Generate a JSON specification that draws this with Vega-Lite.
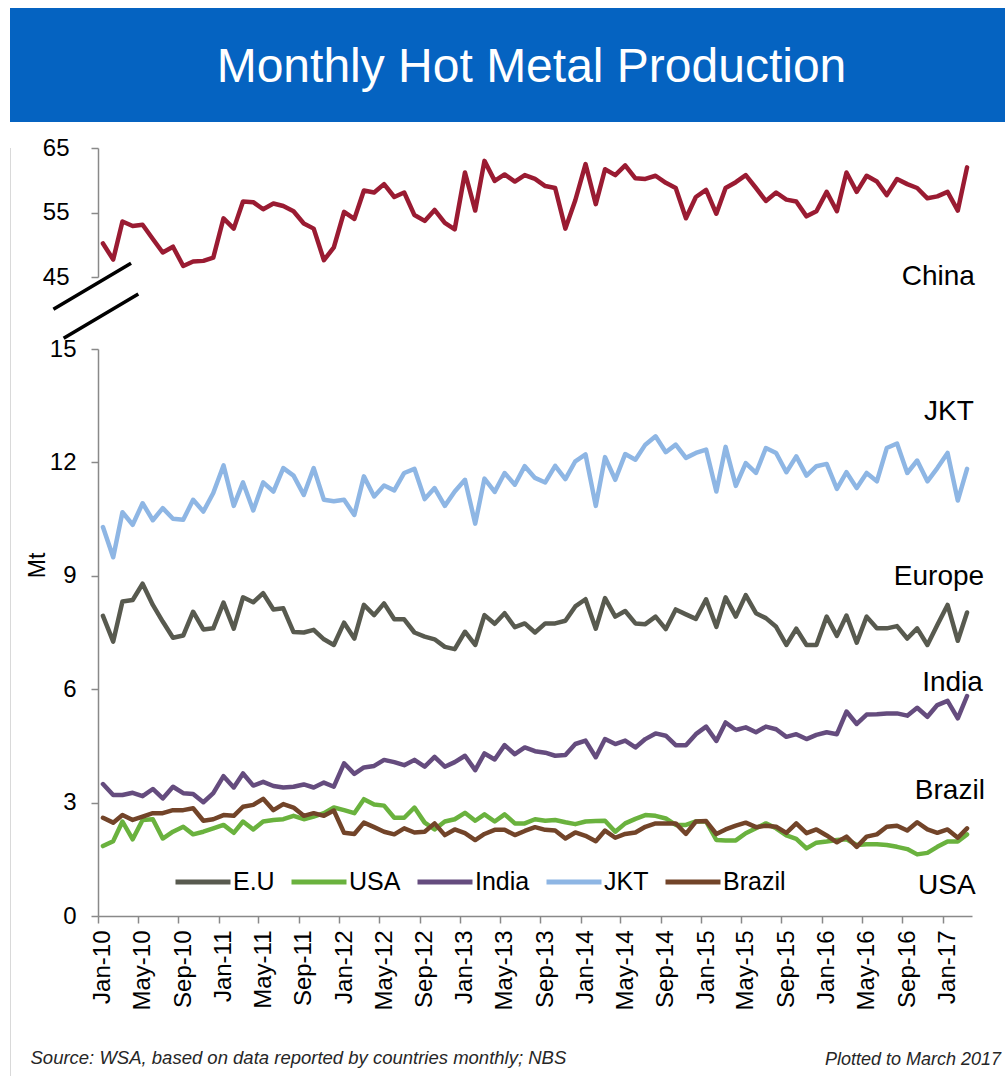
{
  "$schema": "https://vega.github.io/schema/vega-lite/v6.json",
  "padding": {"left": 10, "top": 8, "right": 0, "bottom": 0},
  "background": "white",
  "bounds": "flush",
  "spacing": 26,
  "datasets": {
    "production": [
      {"date": "2010-01-01", "series": "E.U", "mt": 7.94}, {"date": "2010-02-01", "series": "E.U", "mt": 7.26}, {"date": "2010-03-01", "series": "E.U", "mt": 8.32}, {"date": "2010-04-01", "series": "E.U", "mt": 8.36}, {"date": "2010-05-01", "series": "E.U", "mt": 8.79}, {"date": "2010-06-01", "series": "E.U", "mt": 8.23}, {"date": "2010-07-01", "series": "E.U", "mt": 7.79}, {"date": "2010-08-01", "series": "E.U", "mt": 7.36}, {"date": "2010-09-01", "series": "E.U", "mt": 7.42}, {"date": "2010-10-01", "series": "E.U", "mt": 8.05}, {"date": "2010-11-01", "series": "E.U", "mt": 7.58}, {"date": "2010-12-01", "series": "E.U", "mt": 7.61},
      {"date": "2011-01-01", "series": "E.U", "mt": 8.29}, {"date": "2011-02-01", "series": "E.U", "mt": 7.60}, {"date": "2011-03-01", "series": "E.U", "mt": 8.43}, {"date": "2011-04-01", "series": "E.U", "mt": 8.30}, {"date": "2011-05-01", "series": "E.U", "mt": 8.54}, {"date": "2011-06-01", "series": "E.U", "mt": 8.11}, {"date": "2011-07-01", "series": "E.U", "mt": 8.14}, {"date": "2011-08-01", "series": "E.U", "mt": 7.51}, {"date": "2011-09-01", "series": "E.U", "mt": 7.50}, {"date": "2011-10-01", "series": "E.U", "mt": 7.57}, {"date": "2011-11-01", "series": "E.U", "mt": 7.32}, {"date": "2011-12-01", "series": "E.U", "mt": 7.17},
      {"date": "2012-01-01", "series": "E.U", "mt": 7.76}, {"date": "2012-02-01", "series": "E.U", "mt": 7.34}, {"date": "2012-03-01", "series": "E.U", "mt": 8.23}, {"date": "2012-04-01", "series": "E.U", "mt": 7.96}, {"date": "2012-05-01", "series": "E.U", "mt": 8.27}, {"date": "2012-06-01", "series": "E.U", "mt": 7.85}, {"date": "2012-07-01", "series": "E.U", "mt": 7.85}, {"date": "2012-08-01", "series": "E.U", "mt": 7.50}, {"date": "2012-09-01", "series": "E.U", "mt": 7.39}, {"date": "2012-10-01", "series": "E.U", "mt": 7.32}, {"date": "2012-11-01", "series": "E.U", "mt": 7.12}, {"date": "2012-12-01", "series": "E.U", "mt": 7.06},
      {"date": "2013-01-01", "series": "E.U", "mt": 7.52}, {"date": "2013-02-01", "series": "E.U", "mt": 7.17}, {"date": "2013-03-01", "series": "E.U", "mt": 7.96}, {"date": "2013-04-01", "series": "E.U", "mt": 7.73}, {"date": "2013-05-01", "series": "E.U", "mt": 8.01}, {"date": "2013-06-01", "series": "E.U", "mt": 7.64}, {"date": "2013-07-01", "series": "E.U", "mt": 7.74}, {"date": "2013-08-01", "series": "E.U", "mt": 7.50}, {"date": "2013-09-01", "series": "E.U", "mt": 7.74}, {"date": "2013-10-01", "series": "E.U", "mt": 7.74}, {"date": "2013-11-01", "series": "E.U", "mt": 7.81}, {"date": "2013-12-01", "series": "E.U", "mt": 8.19},
      {"date": "2014-01-01", "series": "E.U", "mt": 8.38}, {"date": "2014-02-01", "series": "E.U", "mt": 7.60}, {"date": "2014-03-01", "series": "E.U", "mt": 8.41}, {"date": "2014-04-01", "series": "E.U", "mt": 7.92}, {"date": "2014-05-01", "series": "E.U", "mt": 8.07}, {"date": "2014-06-01", "series": "E.U", "mt": 7.74}, {"date": "2014-07-01", "series": "E.U", "mt": 7.72}, {"date": "2014-08-01", "series": "E.U", "mt": 7.92}, {"date": "2014-09-01", "series": "E.U", "mt": 7.59}, {"date": "2014-10-01", "series": "E.U", "mt": 8.11}, {"date": "2014-11-01", "series": "E.U", "mt": 7.98}, {"date": "2014-12-01", "series": "E.U", "mt": 7.86},
      {"date": "2015-01-01", "series": "E.U", "mt": 8.38}, {"date": "2015-02-01", "series": "E.U", "mt": 7.65}, {"date": "2015-03-01", "series": "E.U", "mt": 8.43}, {"date": "2015-04-01", "series": "E.U", "mt": 7.92}, {"date": "2015-05-01", "series": "E.U", "mt": 8.49}, {"date": "2015-06-01", "series": "E.U", "mt": 8.01}, {"date": "2015-07-01", "series": "E.U", "mt": 7.88}, {"date": "2015-08-01", "series": "E.U", "mt": 7.65}, {"date": "2015-09-01", "series": "E.U", "mt": 7.17}, {"date": "2015-10-01", "series": "E.U", "mt": 7.60}, {"date": "2015-11-01", "series": "E.U", "mt": 7.17}, {"date": "2015-12-01", "series": "E.U", "mt": 7.17},
      {"date": "2016-01-01", "series": "E.U", "mt": 7.92}, {"date": "2016-02-01", "series": "E.U", "mt": 7.41}, {"date": "2016-03-01", "series": "E.U", "mt": 7.95}, {"date": "2016-04-01", "series": "E.U", "mt": 7.23}, {"date": "2016-05-01", "series": "E.U", "mt": 7.92}, {"date": "2016-06-01", "series": "E.U", "mt": 7.61}, {"date": "2016-07-01", "series": "E.U", "mt": 7.61}, {"date": "2016-08-01", "series": "E.U", "mt": 7.67}, {"date": "2016-09-01", "series": "E.U", "mt": 7.34}, {"date": "2016-10-01", "series": "E.U", "mt": 7.61}, {"date": "2016-11-01", "series": "E.U", "mt": 7.17}, {"date": "2016-12-01", "series": "E.U", "mt": 7.70},
      {"date": "2017-01-01", "series": "E.U", "mt": 8.23}, {"date": "2017-02-01", "series": "E.U", "mt": 7.28}, {"date": "2017-03-01", "series": "E.U", "mt": 8.03},

      {"date": "2010-01-01", "series": "USA", "mt": 1.85}, {"date": "2010-02-01", "series": "USA", "mt": 1.98}, {"date": "2010-03-01", "series": "USA", "mt": 2.50}, {"date": "2010-04-01", "series": "USA", "mt": 2.03}, {"date": "2010-05-01", "series": "USA", "mt": 2.54}, {"date": "2010-06-01", "series": "USA", "mt": 2.56}, {"date": "2010-07-01", "series": "USA", "mt": 2.05}, {"date": "2010-08-01", "series": "USA", "mt": 2.23}, {"date": "2010-09-01", "series": "USA", "mt": 2.36}, {"date": "2010-10-01", "series": "USA", "mt": 2.16}, {"date": "2010-11-01", "series": "USA", "mt": 2.23}, {"date": "2010-12-01", "series": "USA", "mt": 2.32},
      {"date": "2011-01-01", "series": "USA", "mt": 2.41}, {"date": "2011-02-01", "series": "USA", "mt": 2.20}, {"date": "2011-03-01", "series": "USA", "mt": 2.50}, {"date": "2011-04-01", "series": "USA", "mt": 2.29}, {"date": "2011-05-01", "series": "USA", "mt": 2.50}, {"date": "2011-06-01", "series": "USA", "mt": 2.54}, {"date": "2011-07-01", "series": "USA", "mt": 2.56}, {"date": "2011-08-01", "series": "USA", "mt": 2.65}, {"date": "2011-09-01", "series": "USA", "mt": 2.56}, {"date": "2011-10-01", "series": "USA", "mt": 2.63}, {"date": "2011-11-01", "series": "USA", "mt": 2.72}, {"date": "2011-12-01", "series": "USA", "mt": 2.87},
      {"date": "2012-01-01", "series": "USA", "mt": 2.80}, {"date": "2012-02-01", "series": "USA", "mt": 2.72}, {"date": "2012-03-01", "series": "USA", "mt": 3.09}, {"date": "2012-04-01", "series": "USA", "mt": 2.95}, {"date": "2012-05-01", "series": "USA", "mt": 2.92}, {"date": "2012-06-01", "series": "USA", "mt": 2.60}, {"date": "2012-07-01", "series": "USA", "mt": 2.60}, {"date": "2012-08-01", "series": "USA", "mt": 2.87}, {"date": "2012-09-01", "series": "USA", "mt": 2.47}, {"date": "2012-10-01", "series": "USA", "mt": 2.29}, {"date": "2012-11-01", "series": "USA", "mt": 2.50}, {"date": "2012-12-01", "series": "USA", "mt": 2.56},
      {"date": "2013-01-01", "series": "USA", "mt": 2.73}, {"date": "2013-02-01", "series": "USA", "mt": 2.52}, {"date": "2013-03-01", "series": "USA", "mt": 2.69}, {"date": "2013-04-01", "series": "USA", "mt": 2.50}, {"date": "2013-05-01", "series": "USA", "mt": 2.69}, {"date": "2013-06-01", "series": "USA", "mt": 2.45}, {"date": "2013-07-01", "series": "USA", "mt": 2.45}, {"date": "2013-08-01", "series": "USA", "mt": 2.56}, {"date": "2013-09-01", "series": "USA", "mt": 2.52}, {"date": "2013-10-01", "series": "USA", "mt": 2.54}, {"date": "2013-11-01", "series": "USA", "mt": 2.48}, {"date": "2013-12-01", "series": "USA", "mt": 2.43},
      {"date": "2014-01-01", "series": "USA", "mt": 2.50}, {"date": "2014-02-01", "series": "USA", "mt": 2.51}, {"date": "2014-03-01", "series": "USA", "mt": 2.52}, {"date": "2014-04-01", "series": "USA", "mt": 2.23}, {"date": "2014-05-01", "series": "USA", "mt": 2.45}, {"date": "2014-06-01", "series": "USA", "mt": 2.57}, {"date": "2014-07-01", "series": "USA", "mt": 2.67}, {"date": "2014-08-01", "series": "USA", "mt": 2.65}, {"date": "2014-09-01", "series": "USA", "mt": 2.58}, {"date": "2014-10-01", "series": "USA", "mt": 2.41}, {"date": "2014-11-01", "series": "USA", "mt": 2.41}, {"date": "2014-12-01", "series": "USA", "mt": 2.50},
      {"date": "2015-01-01", "series": "USA", "mt": 2.50}, {"date": "2015-02-01", "series": "USA", "mt": 2.01}, {"date": "2015-03-01", "series": "USA", "mt": 2.00}, {"date": "2015-04-01", "series": "USA", "mt": 2.00}, {"date": "2015-05-01", "series": "USA", "mt": 2.19}, {"date": "2015-06-01", "series": "USA", "mt": 2.32}, {"date": "2015-07-01", "series": "USA", "mt": 2.45}, {"date": "2015-08-01", "series": "USA", "mt": 2.32}, {"date": "2015-09-01", "series": "USA", "mt": 2.13}, {"date": "2015-10-01", "series": "USA", "mt": 2.04}, {"date": "2015-11-01", "series": "USA", "mt": 1.79}, {"date": "2015-12-01", "series": "USA", "mt": 1.94},
      {"date": "2016-01-01", "series": "USA", "mt": 1.97}, {"date": "2016-02-01", "series": "USA", "mt": 2.01}, {"date": "2016-03-01", "series": "USA", "mt": 2.03}, {"date": "2016-04-01", "series": "USA", "mt": 1.88}, {"date": "2016-05-01", "series": "USA", "mt": 1.90}, {"date": "2016-06-01", "series": "USA", "mt": 1.90}, {"date": "2016-07-01", "series": "USA", "mt": 1.88}, {"date": "2016-08-01", "series": "USA", "mt": 1.83}, {"date": "2016-09-01", "series": "USA", "mt": 1.77}, {"date": "2016-10-01", "series": "USA", "mt": 1.63}, {"date": "2016-11-01", "series": "USA", "mt": 1.67}, {"date": "2016-12-01", "series": "USA", "mt": 1.83},
      {"date": "2017-01-01", "series": "USA", "mt": 1.97}, {"date": "2017-02-01", "series": "USA", "mt": 1.97}, {"date": "2017-03-01", "series": "USA", "mt": 2.16},

      {"date": "2010-01-01", "series": "India", "mt": 3.49}, {"date": "2010-02-01", "series": "India", "mt": 3.20}, {"date": "2010-03-01", "series": "India", "mt": 3.20}, {"date": "2010-04-01", "series": "India", "mt": 3.26}, {"date": "2010-05-01", "series": "India", "mt": 3.17}, {"date": "2010-06-01", "series": "India", "mt": 3.36}, {"date": "2010-07-01", "series": "India", "mt": 3.11}, {"date": "2010-08-01", "series": "India", "mt": 3.42}, {"date": "2010-09-01", "series": "India", "mt": 3.25}, {"date": "2010-10-01", "series": "India", "mt": 3.23}, {"date": "2010-11-01", "series": "India", "mt": 3.01}, {"date": "2010-12-01", "series": "India", "mt": 3.25},
      {"date": "2011-01-01", "series": "India", "mt": 3.70}, {"date": "2011-02-01", "series": "India", "mt": 3.40}, {"date": "2011-03-01", "series": "India", "mt": 3.77}, {"date": "2011-04-01", "series": "India", "mt": 3.45}, {"date": "2011-05-01", "series": "India", "mt": 3.55}, {"date": "2011-06-01", "series": "India", "mt": 3.44}, {"date": "2011-07-01", "series": "India", "mt": 3.40}, {"date": "2011-08-01", "series": "India", "mt": 3.42}, {"date": "2011-09-01", "series": "India", "mt": 3.48}, {"date": "2011-10-01", "series": "India", "mt": 3.40}, {"date": "2011-11-01", "series": "India", "mt": 3.53}, {"date": "2011-12-01", "series": "India", "mt": 3.42},
      {"date": "2012-01-01", "series": "India", "mt": 4.04}, {"date": "2012-02-01", "series": "India", "mt": 3.76}, {"date": "2012-03-01", "series": "India", "mt": 3.93}, {"date": "2012-04-01", "series": "India", "mt": 3.97}, {"date": "2012-05-01", "series": "India", "mt": 4.13}, {"date": "2012-06-01", "series": "India", "mt": 4.07}, {"date": "2012-07-01", "series": "India", "mt": 3.99}, {"date": "2012-08-01", "series": "India", "mt": 4.13}, {"date": "2012-09-01", "series": "India", "mt": 3.95}, {"date": "2012-10-01", "series": "India", "mt": 4.21}, {"date": "2012-11-01", "series": "India", "mt": 3.95}, {"date": "2012-12-01", "series": "India", "mt": 4.07},
      {"date": "2013-01-01", "series": "India", "mt": 4.24}, {"date": "2013-02-01", "series": "India", "mt": 3.86}, {"date": "2013-03-01", "series": "India", "mt": 4.30}, {"date": "2013-04-01", "series": "India", "mt": 4.14}, {"date": "2013-05-01", "series": "India", "mt": 4.52}, {"date": "2013-06-01", "series": "India", "mt": 4.28}, {"date": "2013-07-01", "series": "India", "mt": 4.46}, {"date": "2013-08-01", "series": "India", "mt": 4.36}, {"date": "2013-09-01", "series": "India", "mt": 4.32}, {"date": "2013-10-01", "series": "India", "mt": 4.24}, {"date": "2013-11-01", "series": "India", "mt": 4.26}, {"date": "2013-12-01", "series": "India", "mt": 4.55},
      {"date": "2014-01-01", "series": "India", "mt": 4.64}, {"date": "2014-02-01", "series": "India", "mt": 4.20}, {"date": "2014-03-01", "series": "India", "mt": 4.68}, {"date": "2014-04-01", "series": "India", "mt": 4.55}, {"date": "2014-05-01", "series": "India", "mt": 4.64}, {"date": "2014-06-01", "series": "India", "mt": 4.46}, {"date": "2014-07-01", "series": "India", "mt": 4.68}, {"date": "2014-08-01", "series": "India", "mt": 4.83}, {"date": "2014-09-01", "series": "India", "mt": 4.77}, {"date": "2014-10-01", "series": "India", "mt": 4.52}, {"date": "2014-11-01", "series": "India", "mt": 4.52}, {"date": "2014-12-01", "series": "India", "mt": 4.81},
      {"date": "2015-01-01", "series": "India", "mt": 5.01}, {"date": "2015-02-01", "series": "India", "mt": 4.63}, {"date": "2015-03-01", "series": "India", "mt": 5.12}, {"date": "2015-04-01", "series": "India", "mt": 4.92}, {"date": "2015-05-01", "series": "India", "mt": 4.99}, {"date": "2015-06-01", "series": "India", "mt": 4.86}, {"date": "2015-07-01", "series": "India", "mt": 5.01}, {"date": "2015-08-01", "series": "India", "mt": 4.94}, {"date": "2015-09-01", "series": "India", "mt": 4.74}, {"date": "2015-10-01", "series": "India", "mt": 4.81}, {"date": "2015-11-01", "series": "India", "mt": 4.68}, {"date": "2015-12-01", "series": "India", "mt": 4.79},
      {"date": "2016-01-01", "series": "India", "mt": 4.86}, {"date": "2016-02-01", "series": "India", "mt": 4.81}, {"date": "2016-03-01", "series": "India", "mt": 5.41}, {"date": "2016-04-01", "series": "India", "mt": 5.08}, {"date": "2016-05-01", "series": "India", "mt": 5.33}, {"date": "2016-06-01", "series": "India", "mt": 5.34}, {"date": "2016-07-01", "series": "India", "mt": 5.36}, {"date": "2016-08-01", "series": "India", "mt": 5.36}, {"date": "2016-09-01", "series": "India", "mt": 5.30}, {"date": "2016-10-01", "series": "India", "mt": 5.51}, {"date": "2016-11-01", "series": "India", "mt": 5.27}, {"date": "2016-12-01", "series": "India", "mt": 5.58},
      {"date": "2017-01-01", "series": "India", "mt": 5.69}, {"date": "2017-02-01", "series": "India", "mt": 5.23}, {"date": "2017-03-01", "series": "India", "mt": 5.82},

      {"date": "2010-01-01", "series": "JKT", "mt": 10.29}, {"date": "2010-02-01", "series": "JKT", "mt": 9.49}, {"date": "2010-03-01", "series": "JKT", "mt": 10.68}, {"date": "2010-04-01", "series": "JKT", "mt": 10.35}, {"date": "2010-05-01", "series": "JKT", "mt": 10.92}, {"date": "2010-06-01", "series": "JKT", "mt": 10.47}, {"date": "2010-07-01", "series": "JKT", "mt": 10.79}, {"date": "2010-08-01", "series": "JKT", "mt": 10.51}, {"date": "2010-09-01", "series": "JKT", "mt": 10.48}, {"date": "2010-10-01", "series": "JKT", "mt": 11.01}, {"date": "2010-11-01", "series": "JKT", "mt": 10.70}, {"date": "2010-12-01", "series": "JKT", "mt": 11.19},
      {"date": "2011-01-01", "series": "JKT", "mt": 11.92}, {"date": "2011-02-01", "series": "JKT", "mt": 10.85}, {"date": "2011-03-01", "series": "JKT", "mt": 11.47}, {"date": "2011-04-01", "series": "JKT", "mt": 10.73}, {"date": "2011-05-01", "series": "JKT", "mt": 11.47}, {"date": "2011-06-01", "series": "JKT", "mt": 11.23}, {"date": "2011-07-01", "series": "JKT", "mt": 11.85}, {"date": "2011-08-01", "series": "JKT", "mt": 11.65}, {"date": "2011-09-01", "series": "JKT", "mt": 11.14}, {"date": "2011-10-01", "series": "JKT", "mt": 11.85}, {"date": "2011-11-01", "series": "JKT", "mt": 11.01}, {"date": "2011-12-01", "series": "JKT", "mt": 10.97},
      {"date": "2012-01-01", "series": "JKT", "mt": 11.01}, {"date": "2012-02-01", "series": "JKT", "mt": 10.61}, {"date": "2012-03-01", "series": "JKT", "mt": 11.63}, {"date": "2012-04-01", "series": "JKT", "mt": 11.10}, {"date": "2012-05-01", "series": "JKT", "mt": 11.39}, {"date": "2012-06-01", "series": "JKT", "mt": 11.26}, {"date": "2012-07-01", "series": "JKT", "mt": 11.72}, {"date": "2012-08-01", "series": "JKT", "mt": 11.83}, {"date": "2012-09-01", "series": "JKT", "mt": 11.03}, {"date": "2012-10-01", "series": "JKT", "mt": 11.32}, {"date": "2012-11-01", "series": "JKT", "mt": 10.85}, {"date": "2012-12-01", "series": "JKT", "mt": 11.23},
      {"date": "2013-01-01", "series": "JKT", "mt": 11.54}, {"date": "2013-02-01", "series": "JKT", "mt": 10.38}, {"date": "2013-03-01", "series": "JKT", "mt": 11.57}, {"date": "2013-04-01", "series": "JKT", "mt": 11.22}, {"date": "2013-05-01", "series": "JKT", "mt": 11.72}, {"date": "2013-06-01", "series": "JKT", "mt": 11.41}, {"date": "2013-07-01", "series": "JKT", "mt": 11.90}, {"date": "2013-08-01", "series": "JKT", "mt": 11.59}, {"date": "2013-09-01", "series": "JKT", "mt": 11.47}, {"date": "2013-10-01", "series": "JKT", "mt": 11.91}, {"date": "2013-11-01", "series": "JKT", "mt": 11.56}, {"date": "2013-12-01", "series": "JKT", "mt": 12.03},
      {"date": "2014-01-01", "series": "JKT", "mt": 12.21}, {"date": "2014-02-01", "series": "JKT", "mt": 10.85}, {"date": "2014-03-01", "series": "JKT", "mt": 12.14}, {"date": "2014-04-01", "series": "JKT", "mt": 11.54}, {"date": "2014-05-01", "series": "JKT", "mt": 12.22}, {"date": "2014-06-01", "series": "JKT", "mt": 12.07}, {"date": "2014-07-01", "series": "JKT", "mt": 12.47}, {"date": "2014-08-01", "series": "JKT", "mt": 12.69}, {"date": "2014-09-01", "series": "JKT", "mt": 12.27}, {"date": "2014-10-01", "series": "JKT", "mt": 12.47}, {"date": "2014-11-01", "series": "JKT", "mt": 12.12}, {"date": "2014-12-01", "series": "JKT", "mt": 12.25},
      {"date": "2015-01-01", "series": "JKT", "mt": 12.34}, {"date": "2015-02-01", "series": "JKT", "mt": 11.23}, {"date": "2015-03-01", "series": "JKT", "mt": 12.41}, {"date": "2015-04-01", "series": "JKT", "mt": 11.38}, {"date": "2015-05-01", "series": "JKT", "mt": 11.98}, {"date": "2015-06-01", "series": "JKT", "mt": 11.72}, {"date": "2015-07-01", "series": "JKT", "mt": 12.38}, {"date": "2015-08-01", "series": "JKT", "mt": 12.25}, {"date": "2015-09-01", "series": "JKT", "mt": 11.74}, {"date": "2015-10-01", "series": "JKT", "mt": 12.16}, {"date": "2015-11-01", "series": "JKT", "mt": 11.65}, {"date": "2015-12-01", "series": "JKT", "mt": 11.90},
      {"date": "2016-01-01", "series": "JKT", "mt": 11.96}, {"date": "2016-02-01", "series": "JKT", "mt": 11.30}, {"date": "2016-03-01", "series": "JKT", "mt": 11.74}, {"date": "2016-04-01", "series": "JKT", "mt": 11.32}, {"date": "2016-05-01", "series": "JKT", "mt": 11.72}, {"date": "2016-06-01", "series": "JKT", "mt": 11.50}, {"date": "2016-07-01", "series": "JKT", "mt": 12.38}, {"date": "2016-08-01", "series": "JKT", "mt": 12.50}, {"date": "2016-09-01", "series": "JKT", "mt": 11.72}, {"date": "2016-10-01", "series": "JKT", "mt": 12.05}, {"date": "2016-11-01", "series": "JKT", "mt": 11.50}, {"date": "2016-12-01", "series": "JKT", "mt": 11.85},
      {"date": "2017-01-01", "series": "JKT", "mt": 12.25}, {"date": "2017-02-01", "series": "JKT", "mt": 10.99}, {"date": "2017-03-01", "series": "JKT", "mt": 11.83},

      {"date": "2010-01-01", "series": "Brazil", "mt": 2.60}, {"date": "2010-02-01", "series": "Brazil", "mt": 2.47}, {"date": "2010-03-01", "series": "Brazil", "mt": 2.67}, {"date": "2010-04-01", "series": "Brazil", "mt": 2.54}, {"date": "2010-05-01", "series": "Brazil", "mt": 2.63}, {"date": "2010-06-01", "series": "Brazil", "mt": 2.72}, {"date": "2010-07-01", "series": "Brazil", "mt": 2.72}, {"date": "2010-08-01", "series": "Brazil", "mt": 2.80}, {"date": "2010-09-01", "series": "Brazil", "mt": 2.80}, {"date": "2010-10-01", "series": "Brazil", "mt": 2.85}, {"date": "2010-11-01", "series": "Brazil", "mt": 2.52}, {"date": "2010-12-01", "series": "Brazil", "mt": 2.56},
      {"date": "2011-01-01", "series": "Brazil", "mt": 2.67}, {"date": "2011-02-01", "series": "Brazil", "mt": 2.65}, {"date": "2011-03-01", "series": "Brazil", "mt": 2.89}, {"date": "2011-04-01", "series": "Brazil", "mt": 2.94}, {"date": "2011-05-01", "series": "Brazil", "mt": 3.10}, {"date": "2011-06-01", "series": "Brazil", "mt": 2.80}, {"date": "2011-07-01", "series": "Brazil", "mt": 2.96}, {"date": "2011-08-01", "series": "Brazil", "mt": 2.87}, {"date": "2011-09-01", "series": "Brazil", "mt": 2.65}, {"date": "2011-10-01", "series": "Brazil", "mt": 2.72}, {"date": "2011-11-01", "series": "Brazil", "mt": 2.65}, {"date": "2011-12-01", "series": "Brazil", "mt": 2.79},
      {"date": "2012-01-01", "series": "Brazil", "mt": 2.20}, {"date": "2012-02-01", "series": "Brazil", "mt": 2.17}, {"date": "2012-03-01", "series": "Brazil", "mt": 2.47}, {"date": "2012-04-01", "series": "Brazil", "mt": 2.35}, {"date": "2012-05-01", "series": "Brazil", "mt": 2.23}, {"date": "2012-06-01", "series": "Brazil", "mt": 2.16}, {"date": "2012-07-01", "series": "Brazil", "mt": 2.32}, {"date": "2012-08-01", "series": "Brazil", "mt": 2.21}, {"date": "2012-09-01", "series": "Brazil", "mt": 2.23}, {"date": "2012-10-01", "series": "Brazil", "mt": 2.45}, {"date": "2012-11-01", "series": "Brazil", "mt": 2.14}, {"date": "2012-12-01", "series": "Brazil", "mt": 2.29},
      {"date": "2013-01-01", "series": "Brazil", "mt": 2.19}, {"date": "2013-02-01", "series": "Brazil", "mt": 2.01}, {"date": "2013-03-01", "series": "Brazil", "mt": 2.17}, {"date": "2013-04-01", "series": "Brazil", "mt": 2.28}, {"date": "2013-05-01", "series": "Brazil", "mt": 2.28}, {"date": "2013-06-01", "series": "Brazil", "mt": 2.14}, {"date": "2013-07-01", "series": "Brazil", "mt": 2.25}, {"date": "2013-08-01", "series": "Brazil", "mt": 2.35}, {"date": "2013-09-01", "series": "Brazil", "mt": 2.28}, {"date": "2013-10-01", "series": "Brazil", "mt": 2.26}, {"date": "2013-11-01", "series": "Brazil", "mt": 2.05}, {"date": "2013-12-01", "series": "Brazil", "mt": 2.21},
      {"date": "2014-01-01", "series": "Brazil", "mt": 2.12}, {"date": "2014-02-01", "series": "Brazil", "mt": 1.98}, {"date": "2014-03-01", "series": "Brazil", "mt": 2.26}, {"date": "2014-04-01", "series": "Brazil", "mt": 2.07}, {"date": "2014-05-01", "series": "Brazil", "mt": 2.17}, {"date": "2014-06-01", "series": "Brazil", "mt": 2.21}, {"date": "2014-07-01", "series": "Brazil", "mt": 2.36}, {"date": "2014-08-01", "series": "Brazil", "mt": 2.45}, {"date": "2014-09-01", "series": "Brazil", "mt": 2.45}, {"date": "2014-10-01", "series": "Brazil", "mt": 2.45}, {"date": "2014-11-01", "series": "Brazil", "mt": 2.17}, {"date": "2014-12-01", "series": "Brazil", "mt": 2.50},
      {"date": "2015-01-01", "series": "Brazil", "mt": 2.51}, {"date": "2015-02-01", "series": "Brazil", "mt": 2.17}, {"date": "2015-03-01", "series": "Brazil", "mt": 2.29}, {"date": "2015-04-01", "series": "Brazil", "mt": 2.39}, {"date": "2015-05-01", "series": "Brazil", "mt": 2.47}, {"date": "2015-06-01", "series": "Brazil", "mt": 2.35}, {"date": "2015-07-01", "series": "Brazil", "mt": 2.39}, {"date": "2015-08-01", "series": "Brazil", "mt": 2.36}, {"date": "2015-09-01", "series": "Brazil", "mt": 2.20}, {"date": "2015-10-01", "series": "Brazil", "mt": 2.45}, {"date": "2015-11-01", "series": "Brazil", "mt": 2.19}, {"date": "2015-12-01", "series": "Brazil", "mt": 2.29},
      {"date": "2016-01-01", "series": "Brazil", "mt": 2.13}, {"date": "2016-02-01", "series": "Brazil", "mt": 1.95}, {"date": "2016-03-01", "series": "Brazil", "mt": 2.10}, {"date": "2016-04-01", "series": "Brazil", "mt": 1.83}, {"date": "2016-05-01", "series": "Brazil", "mt": 2.10}, {"date": "2016-06-01", "series": "Brazil", "mt": 2.16}, {"date": "2016-07-01", "series": "Brazil", "mt": 2.36}, {"date": "2016-08-01", "series": "Brazil", "mt": 2.39}, {"date": "2016-09-01", "series": "Brazil", "mt": 2.26}, {"date": "2016-10-01", "series": "Brazil", "mt": 2.48}, {"date": "2016-11-01", "series": "Brazil", "mt": 2.29}, {"date": "2016-12-01", "series": "Brazil", "mt": 2.20},
      {"date": "2017-01-01", "series": "Brazil", "mt": 2.29}, {"date": "2017-02-01", "series": "Brazil", "mt": 2.07}, {"date": "2017-03-01", "series": "Brazil", "mt": 2.32},

      {"date": "2010-01-01", "series": "China", "mt": 50.2}, {"date": "2010-02-01", "series": "China", "mt": 47.7}, {"date": "2010-03-01", "series": "China", "mt": 53.6}, {"date": "2010-04-01", "series": "China", "mt": 52.9}, {"date": "2010-05-01", "series": "China", "mt": 53.1}, {"date": "2010-06-01", "series": "China", "mt": 50.9}, {"date": "2010-07-01", "series": "China", "mt": 48.8}, {"date": "2010-08-01", "series": "China", "mt": 49.7}, {"date": "2010-09-01", "series": "China", "mt": 46.7}, {"date": "2010-10-01", "series": "China", "mt": 47.4}, {"date": "2010-11-01", "series": "China", "mt": 47.5}, {"date": "2010-12-01", "series": "China", "mt": 48.0},
      {"date": "2011-01-01", "series": "China", "mt": 54.1}, {"date": "2011-02-01", "series": "China", "mt": 52.5}, {"date": "2011-03-01", "series": "China", "mt": 56.7}, {"date": "2011-04-01", "series": "China", "mt": 56.6}, {"date": "2011-05-01", "series": "China", "mt": 55.5}, {"date": "2011-06-01", "series": "China", "mt": 56.4}, {"date": "2011-07-01", "series": "China", "mt": 56.0}, {"date": "2011-08-01", "series": "China", "mt": 55.2}, {"date": "2011-09-01", "series": "China", "mt": 53.3}, {"date": "2011-10-01", "series": "China", "mt": 52.5}, {"date": "2011-11-01", "series": "China", "mt": 47.6}, {"date": "2011-12-01", "series": "China", "mt": 49.6},
      {"date": "2012-01-01", "series": "China", "mt": 55.1}, {"date": "2012-02-01", "series": "China", "mt": 54.0}, {"date": "2012-03-01", "series": "China", "mt": 58.4}, {"date": "2012-04-01", "series": "China", "mt": 58.1}, {"date": "2012-05-01", "series": "China", "mt": 59.4}, {"date": "2012-06-01", "series": "China", "mt": 57.4}, {"date": "2012-07-01", "series": "China", "mt": 58.1}, {"date": "2012-08-01", "series": "China", "mt": 54.6}, {"date": "2012-09-01", "series": "China", "mt": 53.7}, {"date": "2012-10-01", "series": "China", "mt": 55.4}, {"date": "2012-11-01", "series": "China", "mt": 53.4}, {"date": "2012-12-01", "series": "China", "mt": 52.4},
      {"date": "2013-01-01", "series": "China", "mt": 61.2}, {"date": "2013-02-01", "series": "China", "mt": 55.3}, {"date": "2013-03-01", "series": "China", "mt": 63.0}, {"date": "2013-04-01", "series": "China", "mt": 59.9}, {"date": "2013-05-01", "series": "China", "mt": 60.9}, {"date": "2013-06-01", "series": "China", "mt": 59.8}, {"date": "2013-07-01", "series": "China", "mt": 60.8}, {"date": "2013-08-01", "series": "China", "mt": 60.2}, {"date": "2013-09-01", "series": "China", "mt": 59.1}, {"date": "2013-10-01", "series": "China", "mt": 58.8}, {"date": "2013-11-01", "series": "China", "mt": 52.5}, {"date": "2013-12-01", "series": "China", "mt": 56.9},
      {"date": "2014-01-01", "series": "China", "mt": 62.5}, {"date": "2014-02-01", "series": "China", "mt": 56.3}, {"date": "2014-03-01", "series": "China", "mt": 61.7}, {"date": "2014-04-01", "series": "China", "mt": 60.8}, {"date": "2014-05-01", "series": "China", "mt": 62.3}, {"date": "2014-06-01", "series": "China", "mt": 60.3}, {"date": "2014-07-01", "series": "China", "mt": 60.2}, {"date": "2014-08-01", "series": "China", "mt": 60.7}, {"date": "2014-09-01", "series": "China", "mt": 59.6}, {"date": "2014-10-01", "series": "China", "mt": 58.8}, {"date": "2014-11-01", "series": "China", "mt": 54.1}, {"date": "2014-12-01", "series": "China", "mt": 57.4},
      {"date": "2015-01-01", "series": "China", "mt": 58.5}, {"date": "2015-02-01", "series": "China", "mt": 54.8}, {"date": "2015-03-01", "series": "China", "mt": 58.8}, {"date": "2015-04-01", "series": "China", "mt": 59.7}, {"date": "2015-05-01", "series": "China", "mt": 60.8}, {"date": "2015-06-01", "series": "China", "mt": 58.8}, {"date": "2015-07-01", "series": "China", "mt": 56.8}, {"date": "2015-08-01", "series": "China", "mt": 58.1}, {"date": "2015-09-01", "series": "China", "mt": 57.0}, {"date": "2015-10-01", "series": "China", "mt": 56.7}, {"date": "2015-11-01", "series": "China", "mt": 54.4}, {"date": "2015-12-01", "series": "China", "mt": 55.2},
      {"date": "2016-01-01", "series": "China", "mt": 58.2}, {"date": "2016-02-01", "series": "China", "mt": 55.2}, {"date": "2016-03-01", "series": "China", "mt": 61.2}, {"date": "2016-04-01", "series": "China", "mt": 58.2}, {"date": "2016-05-01", "series": "China", "mt": 60.7}, {"date": "2016-06-01", "series": "China", "mt": 59.8}, {"date": "2016-07-01", "series": "China", "mt": 57.7}, {"date": "2016-08-01", "series": "China", "mt": 60.2}, {"date": "2016-09-01", "series": "China", "mt": 59.4}, {"date": "2016-10-01", "series": "China", "mt": 58.8}, {"date": "2016-11-01", "series": "China", "mt": 57.2}, {"date": "2016-12-01", "series": "China", "mt": 57.5},
      {"date": "2017-01-01", "series": "China", "mt": 58.2}, {"date": "2017-02-01", "series": "China", "mt": 55.3}, {"date": "2017-03-01", "series": "China", "mt": 62.0}
    ]
  },
  "vconcat": [
    {
      "width": 995,
      "height": 114,
      "view": {"fill": "#0563C1", "stroke": null},
      "data": {"values": [{}]},
      "mark": {"type": "text", "color": "#FFFFFF", "fontSize": 48, "font": "Liberation Sans", "align": "center", "baseline": "middle", "dx": 24, "dy": 3},
      "encoding": {"text": {"value": "Monthly Hot Metal Production"}}
    },
    {
      "bounds": "flush",
      "spacing": 87,
      "hconcat": [
        {
          "width": 1,
          "height": 928,
          "view": {"fill": "#D9D9D9", "stroke": null},
          "data": {"values": [{}]},
          "mark": {"type": "text"},
          "encoding": {"text": {"value": ""}}
        },
        {
          "bounds": "flush",
          "spacing": 72,
          "resolve": {"scale": {"color": "independent"}, "legend": {"color": "independent"}},
          "vconcat": [
            {
              "width": 874,
              "height": 129,
              "data": {"name": "production"},
              "layer": [
                {
                  "transform": [{"filter": "datum.series === 'China'"}],
                  "mark": {"type": "line", "color": "#9A1B32", "strokeWidth": 4.5, "strokeJoin": "round", "strokeCap": "round"},
                  "encoding": {
                    "x": {"field": "date", "type": "temporal", "scale": {"type": "utc", "domain": [{"year": 2009, "month": 12, "date": 17, "utc": true}, {"year": 2017, "month": 3, "date": 16, "utc": true}]}, "axis": null},
                    "y": {"field": "mt", "type": "quantitative", "scale": {"domain": [45, 65], "nice": false, "zero": false}, "axis": {"values": [45, 55, 65], "title": null, "labelPadding": 22}}
                  }
                },
                {
                  "data": {"values": [{}]},
                  "mark": {"type": "rule", "color": "#000000", "strokeWidth": 3.5},
                  "encoding": {
                    "x": {"datum": {"year": 2009, "month": 8, "date": 4, "utc": true}, "type": "temporal", "scale": {"type": "utc", "domain": [{"year": 2009, "month": 12, "date": 17, "utc": true}, {"year": 2017, "month": 3, "date": 16, "utc": true}]}},
                    "x2": {"datum": {"year": 2010, "month": 3, "date": 27, "utc": true}},
                    "y": {"datum": 40.0, "type": "quantitative", "scale": {"domain": [45, 65], "nice": false, "zero": false}},
                    "y2": {"datum": 47.12}
                  }
                },
                {
                  "data": {"values": [{}]},
                  "mark": {"type": "rule", "color": "#000000", "strokeWidth": 3.5},
                  "encoding": {
                    "x": {"datum": {"year": 2009, "month": 9, "date": 4, "utc": true}, "type": "temporal", "scale": {"type": "utc", "domain": [{"year": 2009, "month": 12, "date": 17, "utc": true}, {"year": 2017, "month": 3, "date": 16, "utc": true}]}},
                    "x2": {"datum": {"year": 2010, "month": 4, "date": 18, "utc": true}},
                    "y": {"datum": 35.5, "type": "quantitative", "scale": {"domain": [45, 65], "nice": false, "zero": false}},
                    "y2": {"datum": 42.36}
                  }
                },
                {
                  "data": {"values": [{}]},
                  "mark": {"type": "text", "fontSize": 28, "align": "center", "baseline": "middle", "color": "#000000"},
                  "encoding": {
                    "x": {"datum": {"year": 2016, "month": 12, "date": 4, "utc": true}, "type": "temporal", "scale": {"type": "utc", "domain": [{"year": 2009, "month": 12, "date": 17, "utc": true}, {"year": 2017, "month": 3, "date": 16, "utc": true}]}},
                    "y": {"datum": 45.06, "type": "quantitative", "scale": {"domain": [45, 65], "nice": false, "zero": false}},
                    "text": {"value": "China"}
                  }
                }
              ]
            },
            {
              "width": 874,
              "height": 567,
              "data": {"name": "production"},
              "title": {
                "text": "Plotted to March 2017",
                "orient": "bottom",
                "anchor": "end",
                "frame": "group",
                "dx": 29,
                "offset": -16,
                "fontSize": 18,
                "fontStyle": "italic",
                "fontWeight": "normal",
                "font": "Liberation Sans Narrow, Liberation Sans",
                "color": "#262626"
              },
              "layer": [
                {
                  "transform": [{"filter": "datum.series !== 'China'"}],
                  "mark": {"type": "line", "strokeWidth": 4.5, "strokeJoin": "round", "strokeCap": "round"},
                  "encoding": {
                    "x": {
                      "field": "date",
                      "type": "temporal",
                      "scale": {"type": "utc", "domain": [{"year": 2009, "month": 12, "date": 17, "utc": true}, {"year": 2017, "month": 3, "date": 16, "utc": true}]},
                      "axis": {
                        "format": "%b-%y",
                        "tickCount": {"interval": "month", "step": 4},
                        "labelAngle": -90,
                        "tickOffset": -5,
                        "labelOffset": 5,
                        "labelPadding": 7,
                        "labelFlush": false,
                        "labelOverlap": false,
                        "title": "Source: WSA, based on data reported by countries monthly; NBS",
                        "titleX": -68,
                        "titleY": 141,
                        "titleAlign": "left",
                        "titleBaseline": "middle",
                        "titleAngle": 0,
                        "titleFontStyle": "italic",
                        "titleFontSize": 18.5,
                        "titleColor": "#262626"
                      }
                    },
                    "y": {
                      "field": "mt",
                      "type": "quantitative",
                      "scale": {"domain": [0, 15], "nice": false},
                      "axis": {
                        "values": [0, 3, 6, 9, 12, 15],
                        "labelPadding": 15,
                        "title": "Mt",
                        "titleX": -61,
                        "titleY": 216,
                        "titleAngle": -90,
                        "titleAlign": "center",
                        "titleBaseline": "middle",
                        "titleFontSize": 23
                      }
                    },
                    "color": {
                      "field": "series",
                      "type": "nominal",
                      "scale": {"domain": ["E.U", "USA", "India", "JKT", "Brazil"], "range": ["#585A4F", "#6AB23E", "#654C7E", "#8EB6E4", "#724429"]},
                      "legend": {
                        "orient": "none",
                        "legendX": 75,
                        "legendY": 503,
                        "direction": "horizontal",
                        "columns": 5,
                        "title": null,
                        "padding": 0,
                        "symbolType": "stroke",
                        "symbolSize": 3025,
                        "symbolStrokeWidth": 5,
                        "labelFontSize": 25,
                        "labelFont": "Liberation Sans",
                        "labelColor": "#000000",
                        "labelOffset": 0,
                        "columnPadding": 6
                      }
                    }
                  }
                },
                {
                  "data": {"values": [{}]},
                  "mark": {"type": "text", "fontSize": 28, "align": "center", "baseline": "middle", "color": "#000000"},
                  "encoding": {
                    "x": {"datum": {"year": 2017, "month": 1, "date": 5, "utc": true}, "type": "temporal", "scale": {"type": "utc", "domain": [{"year": 2009, "month": 12, "date": 17, "utc": true}, {"year": 2017, "month": 3, "date": 16, "utc": true}]}},
                    "y": {"datum": 13.34, "type": "quantitative", "scale": {"domain": [0, 15], "nice": false}},
                    "text": {"value": "JKT"}
                  }
                },
                {
                  "data": {"values": [{}]},
                  "mark": {"type": "text", "fontSize": 28, "align": "center", "baseline": "middle", "color": "#000000"},
                  "encoding": {
                    "x": {"datum": {"year": 2016, "month": 12, "date": 6, "utc": true}, "type": "temporal", "scale": {"type": "utc", "domain": [{"year": 2009, "month": 12, "date": 17, "utc": true}, {"year": 2017, "month": 3, "date": 16, "utc": true}]}},
                    "y": {"datum": 8.98, "type": "quantitative", "scale": {"domain": [0, 15], "nice": false}},
                    "text": {"value": "Europe"}
                  }
                },
                {
                  "data": {"values": [{}]},
                  "mark": {"type": "text", "fontSize": 28, "align": "center", "baseline": "middle", "color": "#000000"},
                  "encoding": {
                    "x": {"datum": {"year": 2017, "month": 1, "date": 16, "utc": true}, "type": "temporal", "scale": {"type": "utc", "domain": [{"year": 2009, "month": 12, "date": 17, "utc": true}, {"year": 2017, "month": 3, "date": 16, "utc": true}]}},
                    "y": {"datum": 6.17, "type": "quantitative", "scale": {"domain": [0, 15], "nice": false}},
                    "text": {"value": "India"}
                  }
                },
                {
                  "data": {"values": [{}]},
                  "mark": {"type": "text", "fontSize": 28, "align": "center", "baseline": "middle", "color": "#000000"},
                  "encoding": {
                    "x": {"datum": {"year": 2017, "month": 1, "date": 8, "utc": true}, "type": "temporal", "scale": {"type": "utc", "domain": [{"year": 2009, "month": 12, "date": 17, "utc": true}, {"year": 2017, "month": 3, "date": 16, "utc": true}]}},
                    "y": {"datum": 3.32, "type": "quantitative", "scale": {"domain": [0, 15], "nice": false}},
                    "text": {"value": "Brazil"}
                  }
                },
                {
                  "data": {"values": [{}]},
                  "mark": {"type": "text", "fontSize": 28, "align": "center", "baseline": "middle", "color": "#000000"},
                  "encoding": {
                    "x": {"datum": {"year": 2016, "month": 12, "date": 30, "utc": true}, "type": "temporal", "scale": {"type": "utc", "domain": [{"year": 2009, "month": 12, "date": 17, "utc": true}, {"year": 2017, "month": 3, "date": 16, "utc": true}]}},
                    "y": {"datum": 0.80, "type": "quantitative", "scale": {"domain": [0, 15], "nice": false}},
                    "text": {"value": "USA"}
                  }
                }
              ]
            }
          ]
        }
      ]
    }
  ],
  "config": {
    "font": "Liberation Sans",
    "view": {"stroke": null},
    "axis": {
      "domainColor": "#898989",
      "tickColor": "#898989",
      "domainWidth": 1.5,
      "tickWidth": 1.5,
      "tickSize": 7,
      "labelColor": "#000000",
      "labelFontSize": 24,
      "labelFont": "Liberation Sans",
      "titleFont": "Liberation Sans",
      "titleFontWeight": "normal",
      "titleColor": "#000000",
      "grid": false
    },
    "legend": {"labelFont": "Liberation Sans"},
    "title": {"font": "Liberation Sans"}
  }
}
